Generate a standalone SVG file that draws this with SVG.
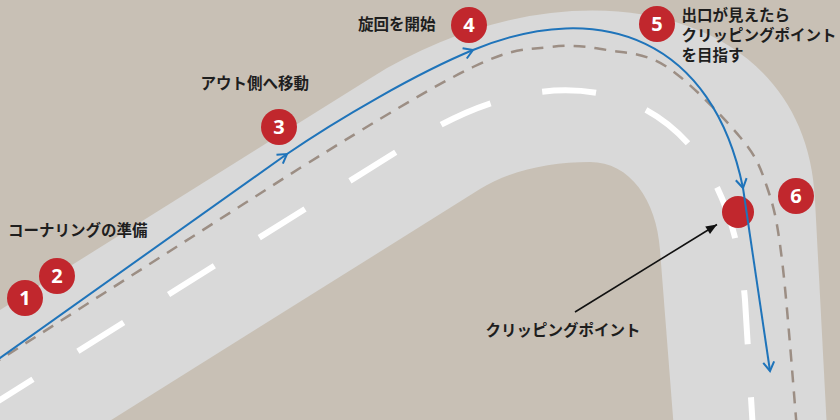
<svg xmlns="http://www.w3.org/2000/svg" width="840" height="420" viewBox="0 0 840 420">
<defs>
<style>
.road{fill:#d9d9d9;}
.center{fill:none;stroke:#ffffff;stroke-width:6;stroke-dasharray:54 53;stroke-dashoffset:98.5;}
.lane{fill:none;stroke:#9c8e84;stroke-width:2.5;stroke-dasharray:12 9;}
.line{fill:none;stroke:#1f74ba;stroke-width:2;}
.pt{fill:#c1272d;}
.num{fill:#ffffff;font-family:"Noto Sans","Noto Sans CJK JP",sans-serif;font-weight:700;font-size:20px;text-anchor:middle;}
.lbl{fill:#1e1e1e;font-family:"Noto Sans CJK JP","Noto Sans",sans-serif;font-weight:700;font-size:15.5px;}
</style>
<marker id="chev" viewBox="-12 -8 14 16" markerWidth="14" markerHeight="16" refX="0" refY="0" orient="auto" markerUnits="userSpaceOnUse" overflow="visible">
<path d="M-9,-5.5 L0,0 L-9,5.5" fill="none" stroke="#1f74ba" stroke-width="2" stroke-linejoin="miter"/>
</marker>
<marker id="tri" viewBox="-11 -5 12 10" markerWidth="12" markerHeight="10" refX="0" refY="0" orient="auto" markerUnits="userSpaceOnUse" overflow="visible">
<path d="M-11,-4.5 L0,0 L-11,4.5 Z" fill="#111111"/>
</marker>
</defs>
<rect x="0" y="0" width="840" height="420" fill="#c8c0b5"/>
<g id="road">
<path class="road" d="M-10,316.3 L370,78.4 C565,-43.5 806,0 815,200 L827,430 L674,430 L660,250 C656.5,200 630,162 590,162 C550,162 509.7,170.5 480,189.1 L-10,495.9 Z"/>
<path class="center" d="M-20,412.5 L420,137 C564,47 727.4,80 745,300 L753,430"/>
<path class="lane" d="M-10,366 L300,168 C380.5,118.2 431.3,87.2 473,67 C514.7,46.8 527.7,49.8 550,47 C572.3,44.2 587.5,46.7 607,50 C626.5,53.3 644.8,52.5 667,67 C689.2,81.5 723.3,117 740,137 C756.7,157 760,166.5 767,187 C774,207.5 777,219.5 782,260 C787,300.5 794.5,401.7 797,430"/>
</g>
<g id="clipping-point">
<circle class="pt" cx="738" cy="212" r="16"/>
</g>
<g id="connectors">
<path class="line" d="M-5,361.5 L287,154" marker-end="url(#chev)"/>
<path class="line" d="M287,154 C336.4,119.9 417.5,72.8 473,50" marker-end="url(#chev)"/>
<path class="line" d="M473,50 C602.5,-3.2 713,41 743,188" marker-end="url(#chev)"/>
<path class="line" d="M743,188 L770,371" marker-end="url(#chev)"/>
<path d="M575,312 L717,224.5" fill="none" stroke="#111111" stroke-width="1.6" marker-end="url(#tri)"/>
</g>
<g id="step1">
<circle class="pt" cx="25" cy="298" r="18"/>
<text class="num" x="25" y="305">1</text>
</g>
<g id="step2">
<circle class="pt" cx="57" cy="276" r="18"/>
<text class="num" x="57" y="283">2</text>
<text class="lbl" x="8" y="235.5">コーナリングの準備</text>
</g>
<g id="step3">
<circle class="pt" cx="279" cy="127" r="18"/>
<text class="num" x="279" y="134">3</text>
<text class="lbl" x="200.5" y="89">アウト側へ移動</text>
</g>
<g id="step4">
<circle class="pt" cx="469" cy="25" r="18"/>
<text class="num" x="469" y="32">4</text>
<text class="lbl" x="358" y="30">旋回を開始</text>
</g>
<g id="step5">
<circle class="pt" cx="657" cy="24" r="18"/>
<text class="num" x="657" y="31">5</text>
<text class="lbl" x="681.5" y="21">出口が見えたら</text>
<text class="lbl" x="681.5" y="41">クリッピングポイント</text>
<text class="lbl" x="681.5" y="61">を目指す</text>
</g>
<g id="step6">
<circle class="pt" cx="796" cy="196" r="18"/>
<text class="num" x="796" y="203">6</text>
</g>
<g id="clipping-label">
<text class="lbl" x="485.5" y="335.5">クリッピングポイント</text>
</g>
</svg>
